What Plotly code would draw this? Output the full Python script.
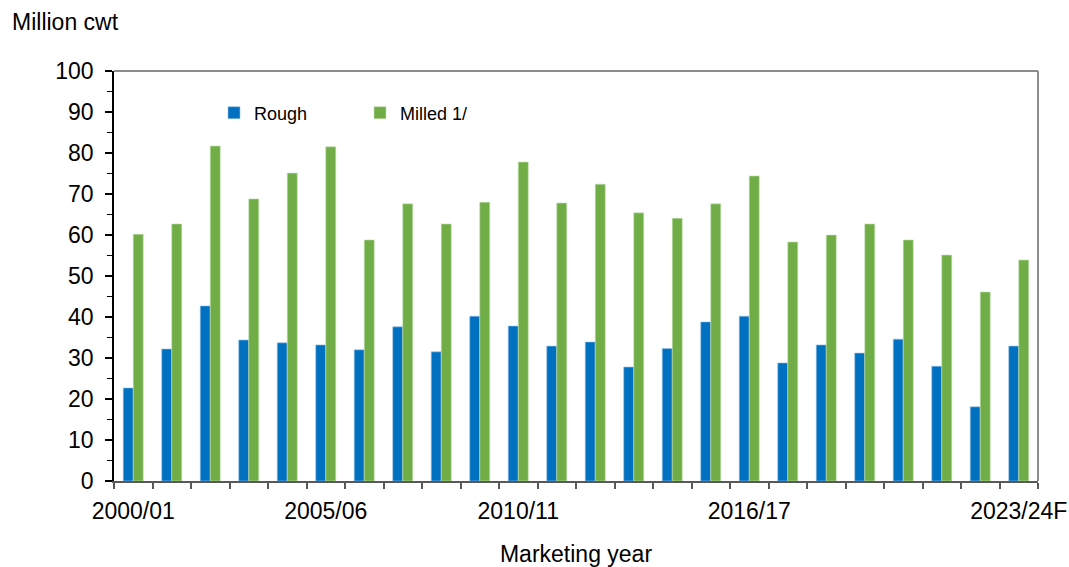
import plotly.graph_objects as go

years = ["2000/01", "2001/02", "2002/03", "2003/04", "2004/05", "2005/06", "2006/07",
         "2007/08", "2008/09", "2009/10", "2010/11", "2011/12", "2012/13", "2013/14",
         "2014/15", "2015/16", "2016/17", "2017/18", "2018/19", "2019/20", "2020/21",
         "2021/22", "2022/23", "2023/24F"]
rough = [22.7, 32.2, 42.7, 34.4, 33.7, 33.2, 32.0, 37.6, 31.5, 40.2, 37.8, 32.9,
         33.9, 27.8, 32.3, 38.8, 40.2, 28.8, 33.2, 31.2, 34.6, 28.0, 18.1, 32.9]
milled = [60.2, 62.7, 81.7, 68.8, 75.1, 81.5, 58.8, 67.6, 62.7, 68.0, 77.8, 67.8,
          72.4, 65.4, 64.1, 67.6, 74.4, 58.3, 60.0, 62.7, 58.8, 55.1, 46.1, 53.9]
labeled_years = ["2000/01", "2005/06", "2010/11", "2016/17", "2023/24F"]

xs = list(range(len(years)))
label_pos = [years.index(y) for y in labeled_years]

FONT = "Liberation Sans, Arial, sans-serif"
W, H = 1069, 567
L, R, T, B = 114, 31, 71, 86
PW, PH = W - L - R, H - T - B

fig = go.Figure()
fig.add_trace(go.Bar(x=xs, y=rough, name="Rough",
                     marker=dict(color="#0070C0", line=dict(color="#9DC3E6", width=0.6))))
fig.add_trace(go.Bar(x=xs, y=milled, name="Milled 1/",
                     marker=dict(color="#70AD47", line=dict(color="#C5E0B4", width=0.6))))

fig.update_layout(
    width=W, height=H,
    paper_bgcolor="white", plot_bgcolor="white",
    margin=dict(l=L, r=R, t=T, b=B, autoexpand=False),
    barmode="group", bargap=0.48, bargroupgap=0,
    font=dict(family=FONT, size=23, color="black"),
    legend=dict(orientation="h", x=(214 - L) / PW, y=(H - B - 113) / PH,
                xanchor="left", yanchor="middle",
                font=dict(size=18), itemwidth=30, entrywidth=101,
                bgcolor="rgba(0,0,0,0)"),
    xaxis=dict(range=[-0.5, len(years) - 0.5], tickmode="array",
               tickvals=label_pos, ticktext=labeled_years, automargin=False,
               ticks="outside", ticklen=0, tickcolor="rgba(0,0,0,0)",
               showline=True, linecolor="#595959", linewidth=2,
               showgrid=False, zeroline=False,
               ticklabelstandoff=8,
               minor=dict(tickmode="array", tickvals=[i - 0.5 for i in range(len(years) + 1)],
                          ticks="outside", ticklen=6, tickcolor="#595959", tickwidth=1.5,
                          showgrid=False),
               title=dict(text="Marketing year", standoff=24, font=dict(size=23))),
    yaxis=dict(range=[0, 100], dtick=10, tickmode="linear", tick0=0, automargin=False,
               ticks="outside", ticklen=7, tickcolor="black", tickwidth=1.5,
               showline=True, linecolor="black", linewidth=1.5,
               showgrid=False, zeroline=False, ticklabelstandoff=7,
               minor=dict(dtick=5, ticks="outside", ticklen=5, tickcolor="black",
                          tickwidth=1, showgrid=False)),
    annotations=[dict(text="Million cwt", xref="paper", yref="paper",
                      x=(10 - L) / PW, y=(H - B - 22) / PH, xanchor="left",
                      yanchor="middle", showarrow=False, font=dict(size=23))],
    shapes=[
        dict(type="line", xref="x domain", yref="y domain", x0=0, x1=1, y0=1, y1=1,
             line=dict(color="#8C8C8C", width=2)),
        dict(type="line", xref="x domain", yref="y domain", x0=1, x1=1, y0=0, y1=1,
             line=dict(color="#8C8C8C", width=2)),
    ],
)

fig.write_html("out.html", config={"displayModeBar": False},
               post_script="document.body.style.margin='0';document.body.style.overflow='hidden';")
